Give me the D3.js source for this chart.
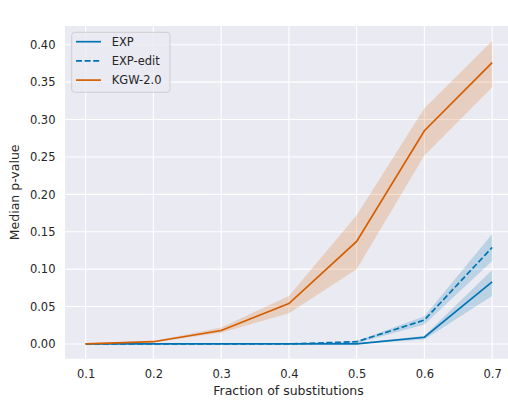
<!DOCTYPE html>
<html><head><meta charset="utf-8">
<script src="https://cdn.jsdelivr.net/npm/d3@7"></script>
<style>body{margin:0;background:#fff}svg{display:block}text{font-family:"DejaVu Sans",sans-serif;fill:#262626}</style>
</head><body><svg id="c" width="508" height="400"></svg>
<script>
const fractions = [0.1, 0.2, 0.3, 0.4, 0.5, 0.6, 0.7];
const expMid   = [0, 0, 0, 0, 0.000, 0.009, 0.083];
const expLo    = [0, 0, 0, 0, 0.000, 0.006, 0.064];
const expHi    = [0, 0, 0, 0, 0.001, 0.011, 0.099];
const editMid  = [0, 0, 0, 0, 0.003, 0.032, 0.129];
const editLo   = [0, 0, 0, 0, 0.001, 0.026, 0.111];
const editHi   = [0, 0, 0, 0, 0.004, 0.037, 0.147];
const kgwMid   = [0.000, 0.003, 0.018, 0.054, 0.137, 0.285, 0.376];
const kgwLo    = [0.000, 0.002, 0.015, 0.041, 0.100, 0.252, 0.343];
const kgwHi    = [0.001, 0.004, 0.022, 0.064, 0.172, 0.315, 0.405];
const xTicks = [0.1, 0.2, 0.3, 0.4, 0.5, 0.6, 0.7];
const yTicks = [0.00, 0.05, 0.10, 0.15, 0.20, 0.25, 0.30, 0.35, 0.40];
const seriesNames = ["EXP", "EXP-edit", "KGW-2.0"];
const seriesColors = ["#0173b2", "#0173b2", "#d55e00"];
const seriesDash = [null, "6,2.6", null];

const svg = d3.select("#c");
const L = 65, T = 26, R = 512.8, B = 358.7;
const x = d3.scaleLinear().domain([0.0695, 0.7305]).range([L, R]);
const y = d3.scaleLinear().domain([-0.0197, 0.425]).range([B, T]);

svg.append("defs").append("clipPath").attr("id","clip")
  .append("rect").attr("x",L).attr("y",T).attr("width",R-L).attr("height",B-T);

svg.append("rect").attr("x",L).attr("y",T).attr("width",R-L).attr("height",B-T).attr("fill","#eaeaf2");

const g = svg.append("g");
g.selectAll(".gx").data(xTicks).join("line")
  .attr("x1",d=>x(d)).attr("x2",d=>x(d)).attr("y1",T).attr("y2",B)
  .attr("stroke","#fff").attr("stroke-width",1.1);
g.selectAll(".gy").data(yTicks).join("line")
  .attr("y1",d=>y(d)).attr("y2",d=>y(d)).attr("x1",L).attr("x2",R)
  .attr("stroke","#fff").attr("stroke-width",1.1);

const xAxis = svg.append("g").attr("transform",`translate(0,${B})`)
  .call(d3.axisBottom(x).tickValues(xTicks).tickFormat(d3.format(".1f")).tickSize(0).tickPadding(11));
const yAxis = svg.append("g").attr("transform",`translate(${L},0)`)
  .call(d3.axisLeft(y).tickValues(yTicks).tickFormat(d3.format(".2f")).tickSize(0).tickPadding(9.5));
[xAxis,yAxis].forEach(a=>{a.select(".domain").remove();
  a.selectAll("text").attr("font-size","11.5px").attr("fill","#262626").attr("font-family","DejaVu Sans");});

const plot = svg.append("g").attr("clip-path","url(#clip)");
const series = [
  {mid:expMid, lo:expLo, hi:expHi},
  {mid:editMid, lo:editLo, hi:editHi},
  {mid:kgwMid, lo:kgwLo, hi:kgwHi}
];
const area = d3.area().x((d,i)=>x(fractions[i])).y0(d=>y(d[0])).y1(d=>y(d[1]));
const line = d3.line().x((d,i)=>x(fractions[i])).y(d=>y(d));
series.forEach((s,k)=>{
  plot.append("path").datum(s.lo.map((v,i)=>[v,s.hi[i]])).attr("d",area)
    .attr("fill",seriesColors[k]).attr("fill-opacity",0.2).attr("stroke","none");
});
series.forEach((s,k)=>{
  plot.append("path").datum(s.mid).attr("d",line).attr("fill","none")
    .attr("stroke",seriesColors[k]).attr("stroke-width",1.7)
    .attr("stroke-dasharray",seriesDash[k]);
});

const lg = svg.append("g");
lg.append("rect").attr("x",71.7).attr("y",32.3).attr("width",98.3).attr("height",60).attr("rx",3)
  .attr("fill","#eaeaf2").attr("fill-opacity",0.8).attr("stroke","#cccccc").attr("stroke-width",0.9);
seriesNames.forEach((n,i)=>{
  const yy = 41.7 + i*19.2;
  lg.append("line").attr("x1",76).attr("x2",101).attr("y1",yy).attr("y2",yy)
    .attr("stroke",seriesColors[i]).attr("stroke-width",1.7).attr("stroke-dasharray",seriesDash[i]);
  lg.append("text").attr("x",111.7).attr("y",yy).attr("dy","0.35em").attr("font-size","11.5px").text(n);
});

svg.append("text").attr("x",288.5).attr("y",395).attr("text-anchor","middle")
  .attr("font-size","12.5px").text("Fraction of substitutions");
svg.append("text").attr("transform",`translate(19,${(T+B)/2}) rotate(-90)`).attr("text-anchor","middle")
  .attr("font-size","12.5px").text("Median p-value");
</script></body></html>
